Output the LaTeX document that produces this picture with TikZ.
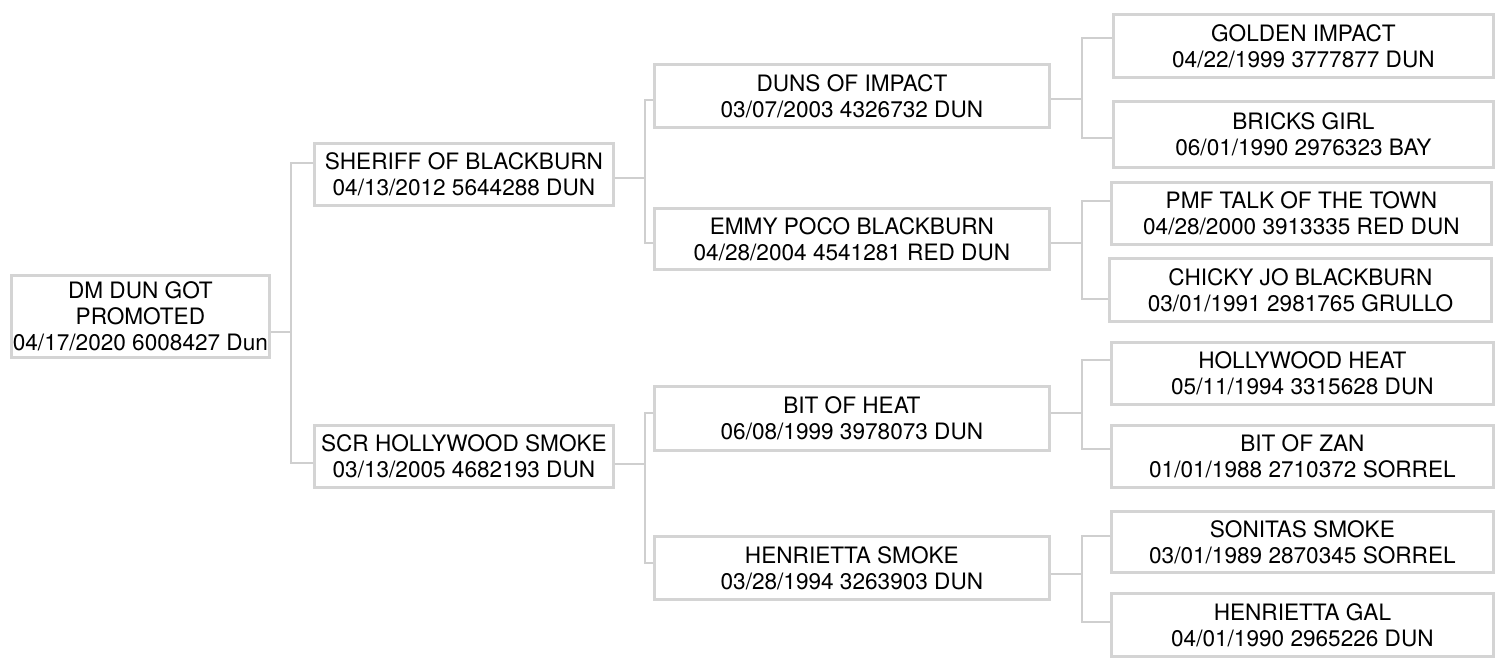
\documentclass[tikz,border=0pt]{standalone}
\usepackage{fontspec}
\setmainfont{TeX Gyre Heros}
\usetikzlibrary{positioning}
\definecolor{boxgray}{HTML}{D4D4D4}
\definecolor{linegray}{HTML}{CFCFCF}
\tikzset{
    x=1pt, y=-1pt,
    horse/.style={
        draw=boxgray,
        line width=2.8pt,
        anchor=north west,
        inner sep=0pt,
        align=center,
        font=\fontsize{22.6}{26}\selectfont
    },
    size/.style 2 args={
        minimum width=#1,
        minimum height=#2
    },
    link/.style={
        draw=linegray,
        line width=1.4pt
    }
}
\begin{document}
\begin{tikzpicture}
    \useasboundingbox (0,0) rectangle (1500,665);
    \node[horse, size={258pt}{82pt}] (root) at (10,274) {DM DUN GOT\\PROMOTED\\04/17/2020 6008427 Dun};
    \node[horse, size={299pt}{62pt}] (sheriff) at (313,142) {SHERIFF OF BLACKBURN\\04/13/2012 5644288 DUN};
    \node[horse, size={299pt}{62pt}] (scr) at (313,424) {SCR HOLLYWOOD SMOKE\\03/13/2005 4682193 DUN};
    \node[horse, size={395pt}{63pt}] (duns) at (653,63) {DUNS OF IMPACT\\03/07/2003 4326732 DUN};
    \node[horse, size={395pt}{61pt}] (emmy) at (653,207) {EMMY POCO BLACKBURN\\04/28/2004 4541281 RED DUN};
    \node[horse, size={395pt}{64pt}] (heat) at (653,385) {BIT OF HEAT\\06/08/1999 3978073 DUN};
    \node[horse, size={395pt}{63pt}] (hsmoke) at (653,535) {HENRIETTA SMOKE\\03/28/1994 3263903 DUN};
    \node[horse, size={380pt}{63pt}] (golden) at (1112,13) {GOLDEN IMPACT\\04/22/1999 3777877 DUN};
    \node[horse, size={380pt}{66pt}] (bricks) at (1112,100) {BRICKS GIRL\\06/01/1990 2976323 BAY};
    \node[horse, size={380pt}{62pt}] (pmf) at (1110,181) {PMF TALK OF THE TOWN\\04/28/2000 3913335 RED DUN};
    \node[horse, size={382pt}{63pt}] (chicky) at (1108,257) {CHICKY JO BLACKBURN\\03/01/1991 2981765 GRULLO};
    \node[horse, size={382pt}{62pt}] (hheat) at (1110,341) {HOLLYWOOD HEAT\\05/11/1994 3315628 DUN};
    \node[horse, size={382pt}{62pt}] (zan) at (1110,424) {BIT OF ZAN\\01/01/1988 2710372 SORREL};
    \node[horse, size={382pt}{61pt}] (sonitas) at (1110,510) {SONITAS SMOKE\\03/01/1989 2870345 SORREL};
    \node[horse, size={382pt}{63pt}] (hgal) at (1110,592) {HENRIETTA GAL\\04/01/1990 2965226 DUN};
    \coordinate (f0) at (291,332);
    \coordinate (f1) at (645,178);
    \coordinate (f2) at (645,464);
    \coordinate (f3) at (1082,99);
    \coordinate (f4) at (1082,243);
    \coordinate (f5) at (1082,413);
    \coordinate (f6) at (1082,574);
    \draw[link] (root.east |- f0) -- (f0) (sheriff.west |- 0,163) -| (f0) (scr.west |- 0,463) -| (f0);
    \draw[link] (sheriff.east |- f1) -- (f1) (duns.west |- 0,100) -| (f1) (emmy.west |- 0,243) -| (f1);
    \draw[link] (scr.east |- f2) -- (f2) (heat.west |- 0,413) -| (f2) (hsmoke.west |- 0,563) -| (f2);
    \draw[link] (duns.east |- f3) -- (f3) (golden.west |- 0,38) -| (f3) (bricks.west |- 0,138) -| (f3);
    \draw[link] (emmy.east |- f4) -- (f4) (pmf.west |- 0,201) -| (f4) (chicky.west |- 0,299) -| (f4);
    \draw[link] (heat.east |- f5) -- (f5) (hheat.west |- 0,360) -| (f5) (zan.west |- 0,449) -| (f5);
    \draw[link] (hsmoke.east |- f6) -- (f6) (sonitas.west |- 0,536) -| (f6) (hgal.west |- 0,622) -| (f6);
\end{tikzpicture}
\end{document}
